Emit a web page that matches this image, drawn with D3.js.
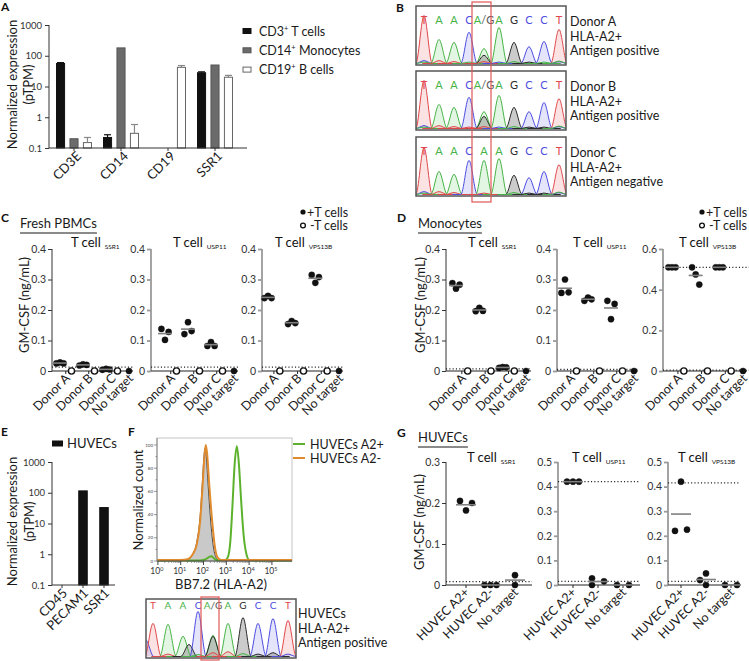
<!DOCTYPE html>
<html><head><meta charset="utf-8">
<script src="https://cdn.jsdelivr.net/npm/d3@7/dist/d3.min.js"></script>
<style>html,body{margin:0;padding:0;background:#fff;} svg{display:block;}</style>
</head><body>
<script>
// ===================== DATA =====================
// Panel A – normalized expression (pTPM)
const genesA = ["CD3E", "CD14", "CD19", "SSR1"];
const cellTypesA = ["CD3", "CD14", "CD19"];
const cellTypeNamesA = [" T cells", " Monocytes", " B cells"];
const tCellsA = [56, 0.22, null, 28];
const tCellsErrA = [60, 0.27, null, 30];
const monocytesA = [0.2, 180, null, 50];
const monocytesErrA = [null, null, null, null];
const bCellsA = [0.15, 0.3, 42, 20];
const bCellsErrA = [0.22, 0.58, 48, 23];
const logTicks = [0.1, 1, 10, 100, 1000];

// Panel E – HUVEC expression
const genesE = ["CD45", "PECAM1", "SSR1"];
const huvecE = [null, 115, 33];
const legendE = "HUVECs";

// Panels B / F – Sanger traces: [base index, channel, signal]
const seqHet = ["T","A","A","C","A/G","A","G","C","C","T"];
const seqHom = ["T","A","A","C","A","A","G","C","C","T"];
const donorTextB = [["Donor A","HLA-A2+","Antigen positive"],
                    ["Donor B","HLA-A2+","Antigen positive"],
                    ["Donor C","HLA-A2+","Antigen negative"]];
const traceDonorA = [[0,"T",100],[0,"C",6],[0,"A",3],[1,"A",50],[1,"T",6],[2,"A",44],[2,"T",4],[3,"C",65],[3,"A",3],
  [4,"A",31],[4,"G",17],[4,"T",4],[5,"A",75],[5,"C",3],[6,"G",44],[6,"A",4],[7,"C",35],[7,"G",3],[8,"C",46],[8,"A",3],
  [9,"T",71],[9,"C",4],[9,"A",5]];
const traceDonorB = [[0,"T",100],[0,"C",6],[0,"A",3],[1,"A",50],[1,"T",6],[2,"A",44],[2,"T",4],[3,"C",65],[3,"T",3],
  [4,"A",35],[4,"G",25],[4,"T",4],[5,"A",69],[5,"C",3],[6,"G",44],[6,"A",4],[7,"C",35],[7,"G",3],[8,"C",54],[8,"G",3],
  [9,"T",62],[9,"C",4],[9,"A",5]];
const traceDonorC = [[0,"T",98],[0,"C",6],[0,"A",3],[1,"A",48],[1,"T",6],[2,"A",42],[2,"T",4],[3,"C",71],
  [4,"A",71],[4,"T",3],[5,"A",75],[6,"G",40],[6,"A",4],[7,"C",35],[7,"G",3],[8,"C",48],[8,"G",3],
  [9,"T",62],[9,"C",4],[9,"A",5]];
const traceHuvec = [[-0.5,"C",35],[0,"T",69],[1,"A",67],[1,"T",5],[2,"A",42],[2.4,"G",25],[3,"C",94],[3,"A",4],
  [4,"A",44],[4,"G",42],[4,"T",8],[5,"A",69],[5,"T",10],[6,"G",81],[6,"A",6],[7,"C",69],[7,"G",5],
  [8,"C",79],[8,"G",8],[9,"T",75],[9,"C",5]];
const huvecTextF = ["HUVECs","HLA-A2+","Antigen positive"];

// Panel F – flow histograms: [log10 BB7.2 signal, normalized count]
const flowIsotype = [[-0.04,0.3],[1.0,0.3],[1.3,1],[1.5,5],[1.7,16],[1.85,38],[1.95,68],[2.02,90],[2.06,97],
  [2.12,90],[2.2,66],[2.3,38],[2.42,14],[2.55,3],[2.7,0.5],[3.0,0.3],[5.88,0.3]];
const flowA2neg = [[-0.04,0.8],[1.0,0.8],[1.3,1.5],[1.5,5],[1.7,14],[1.85,34],[1.95,62],[2.04,90],[2.1,100],
  [2.16,92],[2.25,66],[2.38,34],[2.5,12],[2.62,3],[2.8,0.8],[5.88,0.8]];
const flowA2pos = [[-0.04,0.4],[1.8,0.4],[2.1,1.5],[2.25,3.5],[2.35,4],[2.45,2.5],[2.6,0.6],[2.95,0.6],[3.08,4],
  [3.18,18],[3.27,48],[3.36,82],[3.46,99],[3.55,84],[3.65,52],[3.76,22],[3.88,6],[4.0,1],[4.15,0.5],[5.88,0.5]];
const flowLegend = ["HUVECs A2+", "HUVECs A2-"];
const flowYTicks = [0, 20, 40, 60, 80, 100];
const flowDecades = [0, 1, 2, 3, 4, 5];

// Panels C / D – GM-CSF (ng/mL)
const donorGroups = ["Donor A", "Donor B", "Donor C", "No target"];
const targetNames = ["SSR1", "USP11", "VPS13B"];
const pbmcSSR1Plus   = [[0.025,0.028,0.025],[0.018,0.022,0.020],[0.004,0.007,0.005],[0]];
const pbmcUSP11Plus  = [[0.138,0.102,0.128],[0.121,0.160,0.131],[0.082,0.095,0.082],[0]];
const pbmcVPS13BPlus = [[0.239,0.246,0.239],[0.154,0.164,0.157],[0.315,0.289,0.308],[0]];
const pbmcMinus      = [[0],[0],[0]];
const pbmcCutoffs    = [[0.013],[0.013],[0.013]];
const pbmcYMax       = [0.4, 0.4, 0.4];
const monoSSR1Plus   = [[0.288,0.270,0.283],[0.196,0.207,0.197],[0.010,0.013,0.012],[0]];
const monoUSP11Plus  = [[0.256,0.300,0.258],[0.230,0.241,0.235],[0.230,0.170,0.220],[0]];
const monoVPS13BPlus = [[0.510,0.510,0.510],[0.510,0.475,0.425],[0.510,0.510,0.510],[0]];
const monoMinus      = [[0],[0],[0]];
const monoCutoffs    = [[0.007],[0.005],[0.51,0.004]];
const monoYMax       = [0.4, 0.4, 0.6];
const ticks04 = [0, 0.1, 0.2, 0.3, 0.4];
const ticks06 = [0, 0.2, 0.4, 0.6];

// Panel G – HUVEC targets
const huvecGroups = ["HUVEC A2+", "HUVEC A2-", "No target"];
const huvecSSR1   = [[0.205,0.182,0.200],[0,0,0],[0.024,0]];
const huvecUSP11  = [[0.42,0.42,0.42],[0.027,0,0.015],[0,0]];
const huvecVPS13B = [[0.22,0.42,0.225],[0.02,0.047,0],[0,0]];
const huvecSlotsSSR1   = [[-1,0,1],[-1,0,1],[0,0]];
const huvecSlotsUSP11  = [[-1,0,1],[-1,-1,1],[-1,1]];
const huvecSlotsVPS13B = [[-1,0,1],[-1,0,0],[-1,1]];
const huvecCutoffs = [[0.008],[0.42,0.015],[0.415,0.015]];
const huvecYMax = [0.3, 0.5, 0.5];
const ticks03 = [0, 0.1, 0.2, 0.3];
const ticks05 = [0, 0.1, 0.2, 0.3, 0.4, 0.5];

// ===================== DRAWING =====================
const FONT = "Lato, 'Open Sans', 'DejaVu Sans', sans-serif";
const svg = d3.select("body").append("svg").attr("width", 749).attr("height", 661)
  .style("font-family", FONT);

function txt(g, x, y, s, o = {}) {
  const t = g.append("text").attr("x", x).attr("y", y).text(s)
    .attr("font-size", o.size || 12).attr("fill", o.fill || "#1a1a1a")
    .attr("text-anchor", o.anchor || "start");
  if (o.weight) t.attr("font-weight", o.weight);
  if (o.rotate != null) t.attr("transform", `rotate(${o.rotate},${x},${y})`);
  return t;
}
function styleAxis(ax, size, lineColor, lineW) {
  ax.select(".domain").remove();
  ax.attr("font-family", FONT).attr("font-size", size);
  ax.selectAll(".tick line").attr("stroke", lineColor).attr("stroke-width", lineW || 1);
  ax.selectAll(".tick text").attr("fill", "#333");
}

// panel letters
[["A",1,11],["B",396,12],["C",1,222],["D",397,222],["E",1,436],["F",128,436],["G",397,437]]
  .forEach(([l,x,y]) => txt(svg, x, y, l, {size: 12, weight: "bold", fill: "#111"}));

// ---------- log bar chart helper (A, E) ----------
function logBars(cfg) {
  const g = svg.append("g");
  const y = d3.scaleLog().domain([0.1, 1000]).range([cfg.yB, cfg.yT]);
  const x = d3.scaleBand().domain(cfg.cats).range(cfg.xr);
  const sub = d3.scaleBand().domain(d3.range(cfg.series.length)).range(cfg.subr).paddingInner(cfg.subPad);
  const ax = g.append("g").attr("transform", `translate(${cfg.x0},0)`)
    .call(d3.axisLeft(y).tickValues(logTicks).tickFormat(d => String(d)).tickSize(4).tickPadding(3));
  styleAxis(ax, 9.5, "#333");
  cfg.series.forEach((vals, si) => {
    const rows = vals.map((v, i) => ({v, e: cfg.errs[si][i], c: cfg.cats[i]})).filter(d => d.v != null);
    g.selectAll(null).data(rows).join("rect")
      .attr("x", d => x(d.c) + x.bandwidth() / 2 + sub(si))
      .attr("width", sub.bandwidth())
      .attr("y", d => y(d.v)).attr("height", d => cfg.yB - y(d.v))
      .attr("fill", cfg.fills[si]).attr("stroke", cfg.strokes[si]).attr("stroke-width", 1);
    const er = rows.filter(d => d.e != null);
    const cx = d => x(d.c) + x.bandwidth() / 2 + sub(si) + sub.bandwidth() / 2;
    g.selectAll(null).data(er).join("line")
      .attr("x1", cx).attr("x2", cx).attr("y1", d => y(d.v)).attr("y2", d => y(d.e))
      .attr("stroke", cfg.errC[si]).attr("stroke-width", 1.2);
    g.selectAll(null).data(er).join("line")
      .attr("x1", d => cx(d) - 3.5).attr("x2", d => cx(d) + 3.5).attr("y1", d => y(d.e)).attr("y2", d => y(d.e))
      .attr("stroke", cfg.errC[si]).attr("stroke-width", 1.2);
  });
  g.append("line").attr("x1", cfg.x0).attr("x2", cfg.x0).attr("y1", cfg.yB).attr("y2", cfg.yT).attr("stroke", "#333");
  g.append("line").attr("x1", cfg.x0).attr("x2", cfg.x1).attr("y1", cfg.yB).attr("y2", cfg.yB).attr("stroke", "#333");
  cfg.cats.forEach(c => {
    const cx = x(c) + x.bandwidth() / 2;
    g.append("line").attr("x1", cx).attr("x2", cx).attr("y1", cfg.yB).attr("y2", cfg.yB + 3).attr("stroke", "#333");
    txt(g, cx + cfg.lblDx, cfg.yB + 9, c, {size: 13, anchor: "end", rotate: -45});
  });
  const yc = (cfg.yB + cfg.yT) / 2 - 2;
  txt(g, cfg.ylx[0], yc, "Normalized expression", {size: 13, anchor: "middle", rotate: -90});
  txt(g, cfg.ylx[1], yc, "(pTPM)", {size: 13, anchor: "middle", rotate: -90});
  return g;
}

// Panel A
const gA = logBars({cats: genesA, series: [tCellsA, monocytesA, bCellsA], errs: [tCellsErrA, monocytesErrA, bCellsErrA],
  yB: 148, yT: 25, x0: 49, x1: 247, xr: [50.5, 238.5], subr: [-17.5, 17.5], subPad: 0.4,
  fills: ["#111", "#6b6b6b", "#fff"], strokes: ["#111", "#555", "#666"], errC: ["#111", "#666", "#888"],
  lblDx: 8, ylx: [17, 33]});
const legColorsA = [["#111","#111"],["#6b6b6b","#555"],["#fff","#666"]];
cellTypesA.forEach((c, i) => {
  const yy = 31 + i * 19.3;
  gA.append("rect").attr("x", 243).attr("y", yy - 2.5).attr("width", 8).attr("height", 5)
    .attr("fill", legColorsA[i][0]).attr("stroke", legColorsA[i][1]);
  const t = txt(gA, 259, yy + 4.5, c, {size: 12.5});
  t.append("tspan").attr("font-size", 7.5).attr("dy", -5).text("+");
  t.append("tspan").attr("dy", 5).text(cellTypeNamesA[i]);
});

// Panel E
const gE = logBars({cats: genesE, series: [huvecE], errs: [[null, null, null]],
  yB: 585, yT: 462, x0: 52, x1: 115, xr: [51.5, 114.5], subr: [-4.25, 4.25], subPad: 0,
  fills: ["#111"], strokes: ["#111"], errC: ["#111"], lblDx: 6, ylx: [17, 34]});
gE.append("rect").attr("x", 52).attr("y", 440.5).attr("width", 11).attr("height", 6).attr("fill", "#111");
txt(gE, 67, 448, legendE, {size: 13});

// ---------- Sanger chromatograms ----------
const chanColor = {T: "#e0474a", A: "#47b347", C: "#4d4de0", G: "#2b2b2b"};
const chanFill = {T: "rgba(230,90,90,0.17)", A: "rgba(90,195,90,0.17)", C: "rgba(95,95,230,0.17)", G: "rgba(70,70,70,0.28)"};
let clipN = 0;
function chromatogram(box, trace, bases, xFirst, xLast, letterDy, letterSize) {
  const g = svg.append("g");
  const xs = d3.scaleLinear().domain([0, bases.length - 1]).range([xFirst, xLast]);
  const base = box.y + box.h - 1.5;
  const ys = d3.scaleLinear().domain([0, 100]).range([base, base - 48]);
  const id = "clip" + (clipN++);
  g.append("clipPath").attr("id", id).append("rect")
    .attr("x", box.x).attr("y", box.y).attr("width", box.w).attr("height", box.h);
  const pg = g.append("g").attr("clip-path", `url(#${id})`);
  const area = d3.area().x(d => xs(d[0])).y0(base).y1(d => ys(d[1])).curve(d3.curveMonotoneX);
  const line = d3.line().x(d => xs(d[0])).y(d => ys(d[1])).curve(d3.curveMonotoneX);
  const shapes = trace.map(([i, ch, h]) => ({ch, pts: [[i - 1.1, 0], [i - 0.55, 0], [i, h], [i + 0.55, 0], [i + 1.1, 0]]}));
  pg.selectAll(null).data(shapes).join("path").attr("d", d => area(d.pts)).attr("fill", d => chanFill[d.ch]);
  pg.selectAll(null).data(shapes).join("path").attr("d", d => line(d.pts)).attr("fill", "none")
    .attr("stroke", d => chanColor[d.ch]).attr("stroke-width", 1);
  g.append("rect").attr("x", box.x).attr("y", box.y).attr("width", box.w).attr("height", box.h)
    .attr("fill", "none").attr("stroke", "#555").attr("stroke-width", 1.5);
  bases.forEach((b, i) => {
    const t = g.append("text").attr("x", xs(i)).attr("y", box.y + letterDy).attr("text-anchor", "middle")
      .attr("font-size", letterSize);
    if (b === "A/G") {
      t.append("tspan").attr("fill", chanColor.A).text("A");
      t.append("tspan").attr("fill", "#555").text("/G");
    } else t.attr("fill", chanColor[b]).text(b);
  });
  return g;
}
const boxesB = [{x: 416, y: 6, w: 150, h: 59}, {x: 416, y: 71, w: 150, h: 59}, {x: 416, y: 137, w: 150, h: 59}];
[traceDonorA, traceDonorB, traceDonorC].forEach((tr, k) => {
  const bx = boxesB[k];
  chromatogram(bx, tr, k < 2 ? seqHet : seqHom, 424, 559, 18, 11);
  donorTextB[k].forEach((s, j) => txt(svg, 570, bx.y + 20 + j * 14.5, s, {size: 12.5}));
});
svg.append("rect").attr("x", 472).attr("y", 2).attr("width", 19).attr("height", 200)
  .attr("fill", "none").attr("stroke", "#e05555").attr("stroke-width", 1.2);

const boxF = {x: 146, y: 599, w: 150, h: 59};
chromatogram(boxF, traceHuvec, seqHet, 153, 288, 10, 10);
huvecTextF.forEach((s, j) => txt(svg, 298, 618 + j * 14.5, s, {size: 12.5}));
svg.append("rect").attr("x", 201).attr("y", 597).attr("width", 18).attr("height", 63)
  .attr("fill", "none").attr("stroke", "#e05555").attr("stroke-width", 1.2);

// ---------- Panel F flow histogram ----------
(function () {
  const g = svg.append("g");
  const x = d3.scaleLinear().domain([-0.04, 5.88]).range([157, 292]);
  const y = d3.scaleLinear().domain([0, 100]).range([561, 445]);
  const area = d3.area().x(d => x(d[0])).y0(561).y1(d => y(d[1])).curve(d3.curveMonotoneX);
  const line = d3.line().x(d => x(d[0])).y(d => y(d[1])).curve(d3.curveMonotoneX);
  g.append("rect").attr("x", 157).attr("y", 438).attr("width", 135).attr("height", 123)
    .attr("fill", "none").attr("stroke", "#c4c4c4");
  g.append("path").datum(flowIsotype).attr("d", area).attr("fill", "#c9c9c9");
  g.append("path").datum(flowIsotype).attr("d", line).attr("fill", "none").attr("stroke", "#333").attr("stroke-width", 0.9);
  g.append("path").datum(flowA2pos).attr("d", line).attr("fill", "none").attr("stroke", "#5cb22c").attr("stroke-width", 2);
  g.append("path").datum(flowA2neg).attr("d", line).attr("fill", "none").attr("stroke", "#e08a2e").attr("stroke-width", 2);
  g.append("line").attr("x1", 157).attr("x2", 292).attr("y1", 561).attr("y2", 561).attr("stroke", "#444");
  g.append("line").attr("x1", 157).attr("x2", 157).attr("y1", 561).attr("y2", 438).attr("stroke", "#888");
  flowDecades.forEach(k => {
    g.append("line").attr("x1", x(k)).attr("x2", x(k)).attr("y1", 561).attr("y2", 565).attr("stroke", "#444");
    const t = txt(g, x(k) - 1, 574, "10", {size: 8.5, anchor: "middle", fill: "#333"});
    t.append("tspan").attr("font-size", 5.5).attr("dy", -3.5).text(String(k));
    if (k < 5) d3.range(2, 10).forEach(m => {
      const xm = x(k + Math.log10(m));
      g.append("line").attr("x1", xm).attr("x2", xm).attr("y1", 561).attr("y2", 563).attr("stroke", "#666").attr("stroke-width", 0.6);
    });
  });
  d3.range(0, 101, 10).forEach(v => {
    const major = v % 20 === 0;
    g.append("line").attr("x1", 157).attr("x2", 157 - (major ? 3 : 1.5)).attr("y1", y(v)).attr("y2", y(v))
      .attr("stroke", "#555").attr("stroke-width", 0.6);
  });
  flowYTicks.forEach(v => txt(g, 153, y(v) + 1.5, String(v), {size: 4.5, anchor: "end", fill: "#444"}));
  txt(g, 143, 500, "Normalized count", {size: 13, anchor: "middle", rotate: -90});
  txt(g, 221, 589, "BB7.2 (HLA-A2)", {size: 13, anchor: "middle"});
  const legC = ["#5cb22c", "#e08a2e"];
  flowLegend.forEach((s, i) => {
    const yy = 444 + i * 14;
    g.append("line").attr("x1", 293).attr("x2", 305).attr("y1", yy).attr("y2", yy).attr("stroke", legC[i]).attr("stroke-width", 2);
    txt(g, 310, yy + 4.5, s, {size: 12.5});
  });
})();

// ---------- dot-plot panels (C, D, G) ----------
function dotPanel(o) {
  const g = svg.append("g");
  const y = d3.scaleLinear().domain([0, o.yMax]).range([o.yB, o.yT]);
  const x = d3.scalePoint().domain(d3.range(o.nCols)).range([o.cF, o.cL]);
  const ax = g.append("g").attr("transform", `translate(${o.x0},0)`)
    .call(d3.axisLeft(y).tickValues(o.ticks).tickSize(4).tickPadding(2)
      .tickFormat(d => d === 0 ? "0" : d3.format(".1f")(d)));
  styleAxis(ax, 10.5, o.axisColor, o.axisW);
  g.append("line").attr("x1", o.x0).attr("x2", o.x0).attr("y1", o.yB).attr("y2", o.yT)
    .attr("stroke", o.axisColor).attr("stroke-width", o.axisW);
  g.append("line").attr("x1", o.x0).attr("x2", o.x1).attr("y1", o.yB).attr("y2", o.yB)
    .attr("stroke", "#222").attr("stroke-width", 1.2);
  g.selectAll(null).data(o.cuts).join("line")
    .attr("x1", o.x0).attr("x2", o.cutEnd || o.x1).attr("y1", d => y(d)).attr("y2", d => y(d))
    .attr("stroke", "#222").attr("stroke-width", 1.3).attr("stroke-dasharray", "1.1,2.2");
  o.labelCols.forEach((cols, i) => {
    const lx = d3.mean(cols, c => x(c));
    g.append("line").attr("x1", lx).attr("x2", lx).attr("y1", o.yB).attr("y2", o.yB + 3).attr("stroke", "#222");
    txt(g, lx + o.lblDx, o.yB + 8, o.labels[i], {size: o.lblSize, anchor: "end", rotate: -45});
  });
  g.selectAll(null).data(o.points).join("circle")
    .attr("cx", d => x(d.c) + d.s * o.slotW).attr("cy", d => y(d.v)).attr("r", o.r)
    .attr("fill", d => d.open ? "#fff" : "#111").attr("stroke", "#111")
    .attr("stroke-width", d => d.open ? 1.4 : 0.4);
  g.selectAll(null).data(o.means).join("line")
    .attr("x1", d => x(d.c) - o.meanW).attr("x2", d => x(d.c) + o.meanW)
    .attr("y1", d => y(d.v)).attr("y2", d => y(d.v)).attr("stroke", "#808080").attr("stroke-width", 1.6);
  const t = txt(g, o.tx, o.ty, "T cell", {size: 13, fill: "#111"});
  t.append("tspan").attr("dx", 4).attr("dy", 2).attr("font-size", 6.5).text(o.sub);
  return g;
}
function donorData(plus, minus) {
  const points = [], means = [];
  plus.forEach((vals, gi) => {
    const col = gi < 3 ? 2 * gi : 6;
    vals.forEach((v, k) => points.push({c: col, s: vals.length > 1 ? k - 1 : 0, v, open: false}));
    if (vals.length > 1) means.push({c: col, v: d3.mean(vals)});
  });
  minus.forEach((vals, gi) => vals.forEach(v => points.push({c: 2 * gi + 1, s: 0, v, open: true})));
  return {points, means};
}
function header(x, y, s) {
  const t = txt(svg, x, y, s, {size: 13});
  const w = t.node().getComputedTextLength();
  svg.append("line").attr("x1", x).attr("x2", x + w).attr("y1", y + 5).attr("y2", y + 5)
    .attr("stroke", "#8a8a8a").attr("stroke-width", 2);
}
function tLegend(x) {
  svg.append("circle").attr("cx", x).attr("cy", 212).attr("r", 2.6).attr("fill", "#111");
  txt(svg, x + 4, 216.5, "+T cells", {size: 12.5});
  svg.append("circle").attr("cx", x).attr("cy", 225.5).attr("r", 2.4).attr("fill", "#fff").attr("stroke", "#111").attr("stroke-width", 1.3);
  txt(svg, x + 7, 230, "-T cells", {size: 12.5});
}
const labelColsDonor = [[0, 1], [2, 3], [4, 5], [6]];

// Panel C
header(20, 228, "Fresh PBMCs");
tLegend(303);
txt(svg, 29, 305, "GM-CSF (ng/mL)", {size: 13, anchor: "middle", rotate: -90});
const layoutC = [
  {x0: 52, x1: 133, cF: 60, cL: 129, tx: 71, axisColor: "#333", axisW: 1},
  {x0: 151, x1: 238, cF: 165, cL: 234, tx: 173, axisColor: "#9a9a9a", axisW: 1.8},
  {x0: 262, x1: 343, cF: 268, cL: 339, tx: 275, axisColor: "#9a9a9a", axisW: 1.8}];
[pbmcSSR1Plus, pbmcUSP11Plus, pbmcVPS13BPlus].forEach((plus, i) => {
  const dd = donorData(plus, pbmcMinus);
  dotPanel(Object.assign({}, layoutC[i], {yB: 371, yT: 249, yMax: pbmcYMax[i], ticks: ticks04, nCols: 7,
    cuts: pbmcCutoffs[i], labelCols: labelColsDonor, labels: donorGroups, lblDx: 5, lblSize: 12.5,
    points: dd.points, means: dd.means, slotW: 3.6, meanW: 7, r: 3.1, ty: 247, sub: targetNames[i]}));
});

// Panel D
header(418, 228, "Monocytes");
tLegend(702);
txt(svg, 425, 305, "GM-CSF (ng/mL)", {size: 13, anchor: "middle", rotate: -90});
const layoutD = [
  {x0: 446, x1: 531, cF: 456, cL: 526, tx: 468, axisColor: "#333", axisW: 1},
  {x0: 557, x1: 638, cF: 565, cL: 634, tx: 573, axisColor: "#9a9a9a", axisW: 1.8},
  {x0: 663, x1: 747, cF: 672, cL: 743, tx: 679, axisColor: "#9a9a9a", axisW: 1.8, cutEnd: 749}];
[monoSSR1Plus, monoUSP11Plus, monoVPS13BPlus].forEach((plus, i) => {
  const dd = donorData(plus, monoMinus);
  dotPanel(Object.assign({}, layoutD[i], {yB: 371, yT: 249, yMax: monoYMax[i], ticks: i === 2 ? ticks06 : ticks04, nCols: 7,
    cuts: monoCutoffs[i], labelCols: labelColsDonor, labels: donorGroups, lblDx: 5, lblSize: 12.5,
    points: dd.points, means: dd.means, slotW: 3.6, meanW: 7, r: 3.1, ty: 247, sub: targetNames[i]}));
});

// Panel G
header(418, 442, "HUVECs");
txt(svg, 424, 522, "GM-CSF (ng/mL)", {size: 13, anchor: "middle", rotate: -90});
const layoutG = [
  {x0: 446, x1: 532, cF: 466, cL: 515, tx: 467, axisColor: "#333", axisW: 1},
  {x0: 558, x1: 640, cF: 573, cL: 623, tx: 572, axisColor: "#9a9a9a", axisW: 1.8},
  {x0: 668, x1: 740, cF: 681, cL: 731, tx: 678, axisColor: "#9a9a9a", axisW: 1.8}];
const huvecSlots = [huvecSlotsSSR1, huvecSlotsUSP11, huvecSlotsVPS13B];
[huvecSSR1, huvecUSP11, huvecVPS13B].forEach((vals, i) => {
  const points = [], means = [];
  vals.forEach((grp, gi) => {
    grp.forEach((v, k) => points.push({c: gi, s: huvecSlots[i][gi][k], v, open: false}));
    means.push({c: gi, v: d3.mean(grp)});
  });
  dotPanel(Object.assign({}, layoutG[i], {yB: 585, yT: 462, yMax: huvecYMax[i], ticks: i === 0 ? ticks03 : ticks05, nCols: 3,
    cuts: huvecCutoffs[i], labelCols: [[0], [1], [2]], labels: huvecGroups, lblDx: 4, lblSize: 12.5,
    points, means, slotW: 6, meanW: 10, r: 3.1, ty: 462, sub: targetNames[i]}));
});
</script>
</body></html>
